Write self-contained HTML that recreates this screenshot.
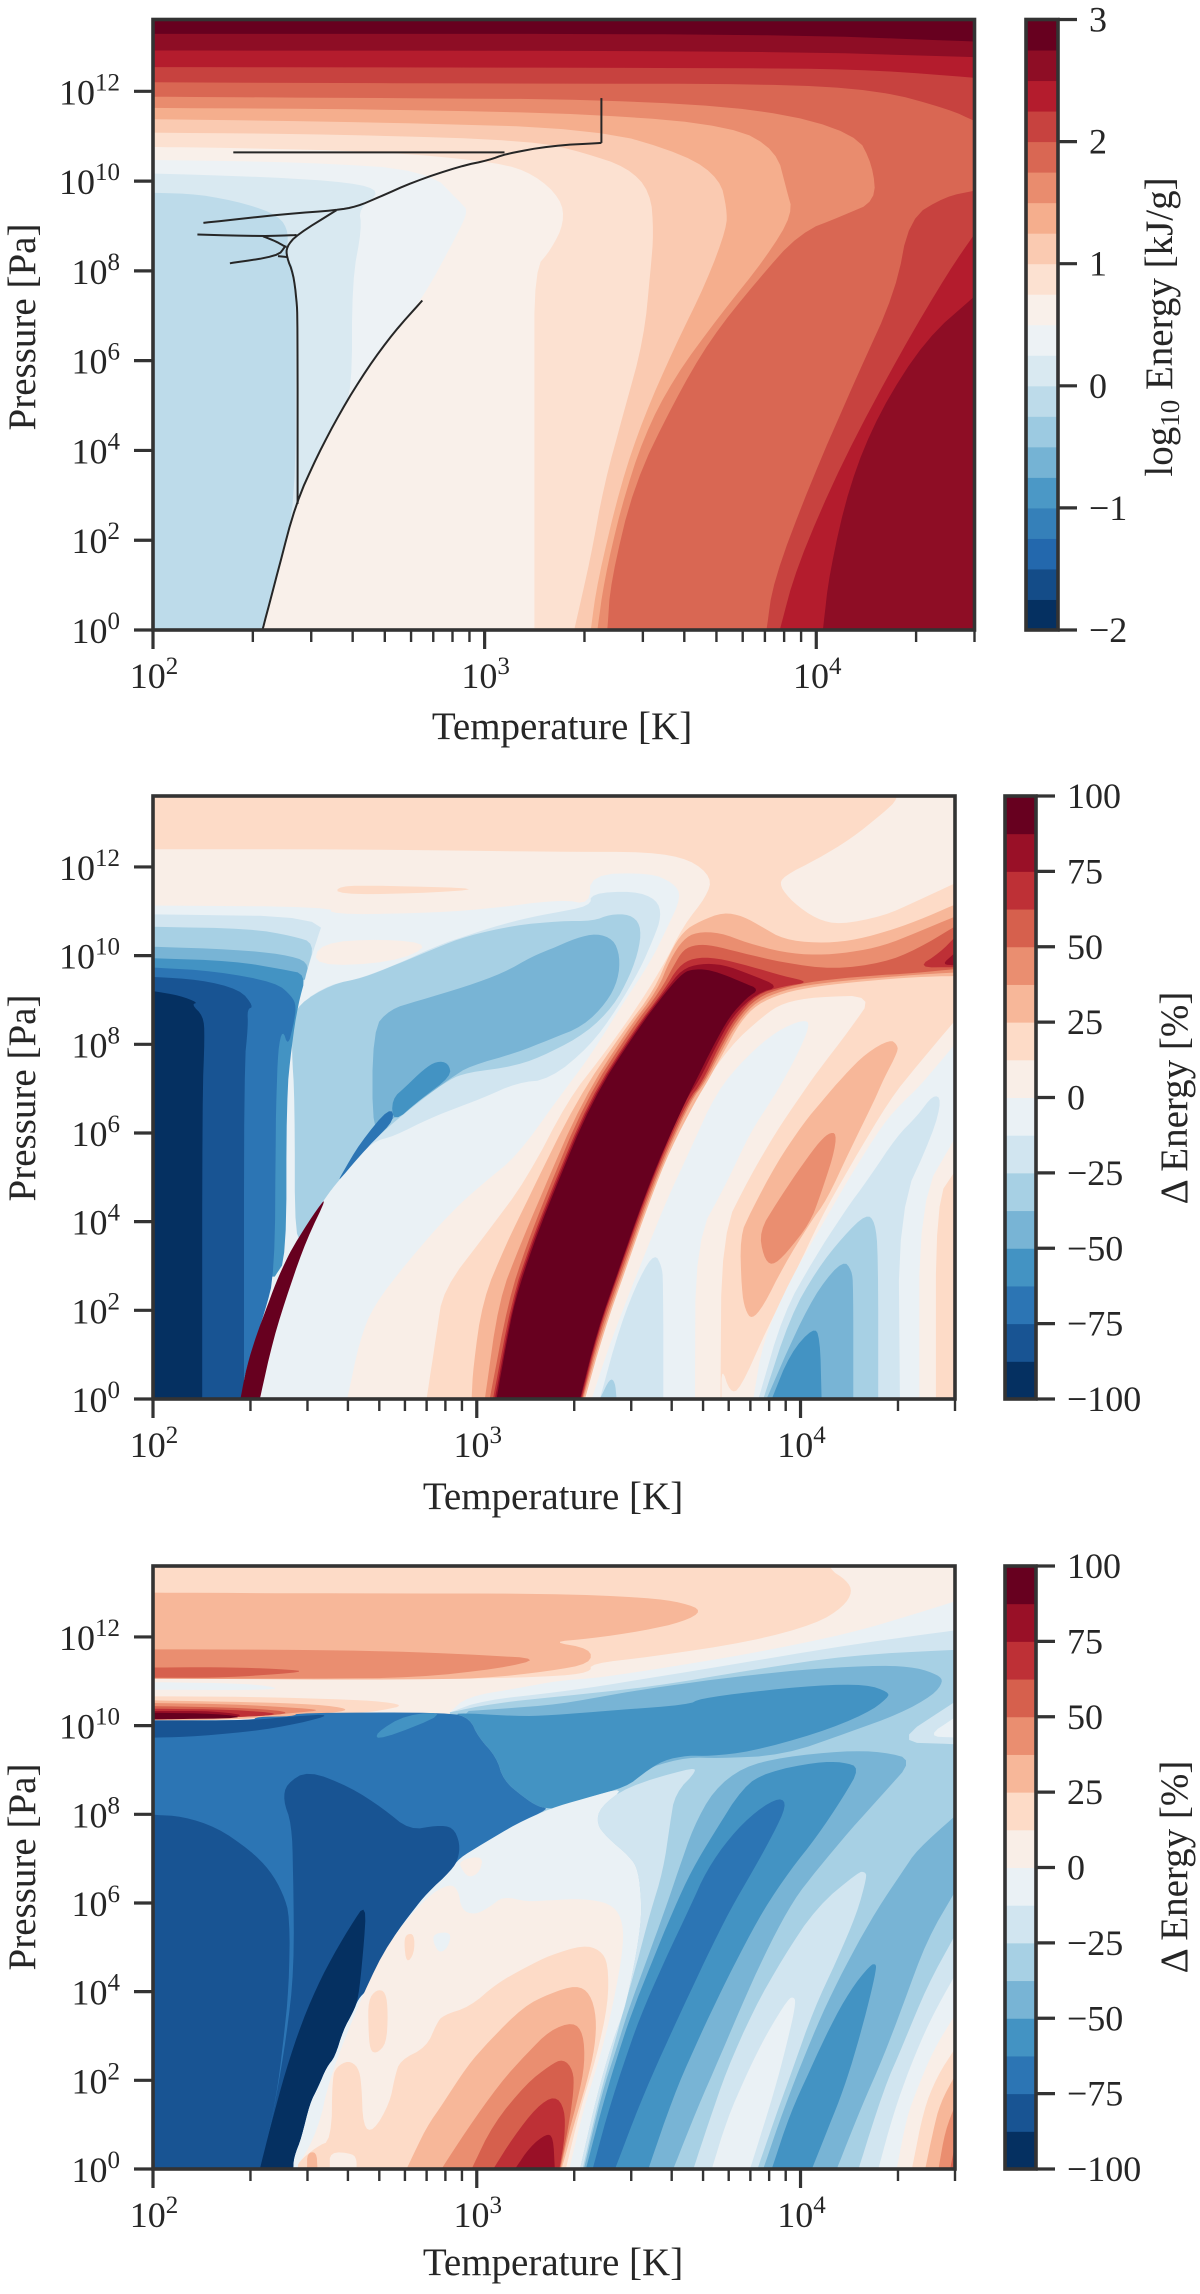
<!DOCTYPE html>
<html lang="en">
<head>
<meta charset="utf-8">
<title>Energy contour panels</title>
<style>
html,body{margin:0;padding:0;background:#fff;}
svg{display:block;}
text{font-family:"Liberation Serif","DejaVu Serif",serif;fill:#262626;}
</style>
</head>
<body>
<svg id="figure" xmlns="http://www.w3.org/2000/svg" width="1200" height="2294" viewBox="0 0 1200 2294">
  <rect width="1200" height="2294" fill="#ffffff"/>
  <defs id="defs"></defs>
  <g id="panel-1"></g>
  <g id="panel-2"></g>
  <g id="panel-3"></g>

  <text x="562" y="739" font-size="39" text-anchor="middle">Temperature [K]</text>
  <text transform="translate(35 327) rotate(-90)" font-size="39" text-anchor="middle">Pressure [Pa]</text>
  <text transform="translate(1172 327) rotate(-90)" font-size="39" text-anchor="middle">log<tspan font-size="27" dy="7">10</tspan><tspan dy="-7"> Energy [kJ/g]</tspan></text>

  <text x="553" y="1509" font-size="39" text-anchor="middle">Temperature [K]</text>
  <text transform="translate(35 1098) rotate(-90)" font-size="39" text-anchor="middle">Pressure [Pa]</text>
  <text transform="translate(1187 1098) rotate(-90)" font-size="39" text-anchor="middle">Δ Energy [%]</text>

  <text x="553" y="2275" font-size="39" text-anchor="middle">Temperature [K]</text>
  <text transform="translate(35 1867) rotate(-90)" font-size="39" text-anchor="middle">Pressure [Pa]</text>
  <text transform="translate(1187 1867) rotate(-90)" font-size="39" text-anchor="middle">Δ Energy [%]</text>
</svg>

<script>
// ---------- axis data ----------
const xMajorExps = [2, 3, 4];
const xMinorValues = [200, 300, 400, 500, 600, 700, 800, 900, 2000, 3000, 4000, 5000, 6000, 7000, 8000, 9000, 20000, 30000];
const yMajorExps = [0, 2, 4, 6, 8, 10, 12];
const energyLevels = [-2, -1.75, -1.5, -1.25, -1, -0.75, -0.5, -0.25, 0, 0.25, 0.5, 0.75, 1, 1.25, 1.5, 1.75, 2, 2.25, 2.5, 2.75, 3];
const deltaLevels = [-100, -87.5, -75, -62.5, -50, -37.5, -25, -12.5, 0, 12.5, 25, 37.5, 50, 62.5, 75, 87.5, 100];
const energyCbarTicks = [3, 2, 1, 0, -1, -2];
const deltaCbarTicks = [100, 75, 50, 25, 0, -25, -50, -75, -100];

// Contour bands: [lower level, boundary in [log10 T, log10 P], closing vertices]
const tailNE = [[4.6, -0.5], [4.6, 14], [1.9, 14]];
const energyBands = [
  [-0.25, [], [[1.9, -1], [4.6, -1], [4.6, 15], [1.9, 15]]],
  [0, [[2, 9.74], [2.14, 9.71], [2.28, 9.5], [2.38, 9.23], [2.41, 8.85], [2.4, 8.36], [2.43, 7.99], [2.43, 6.48], [2.43, 2.81], [2.38, 1.4], [2.33, 0]], tailNE],
  [0.25, [[2, 10.17], [2.35, 10.09], [2.6, 9.97], [2.69, 9.77], [2.62, 9.39], [2.63, 8.96], [2.6, 7.77], [2.6, 5.3], [2.565, 4.86], [2.496, 3.89], [2.43, 2.81], [2.38, 1.4], [2.33, 0]], tailNE],
  [0.5, [[2, 10.47], [2.46, 10.42], [2.83, 10.25], [2.93, 9.5], [2.95, 9.34], [2.92, 8.85], [2.81, 7.34], [2.727, 6.64], [2.646, 5.83], [2.565, 4.86], [2.496, 3.89], [2.43, 2.81], [2.38, 1.4], [2.33, 0]], tailNE],
  [0.75, [[2, 10.76], [2.23, 10.74], [2.69, 10.66], [3.04, 10.42], [3.15, 10.15], [3.23, 9.61], [3.24, 9.07], [3.2, 8.47], [3.15, 8.04], [3.15, 5.4], [3.15, 0]], tailNE],
  [1, [[2, 11.08], [2.58, 11.04], [3.15, 10.9], [3.3, 10.63], [3.43, 10.31], [3.5, 9.77], [3.51, 8.85], [3.5, 8], [3.48, 6.48], [3.42, 4.86], [3.36, 3.24], [3.32, 1.62], [3.27, 0]], tailNE],
  [1.25, [[2, 11.38], [2.69, 11.31], [3.34, 11.17], [3.61, 10.58], [3.71, 10.04], [3.73, 9.39], [3.73, 8.96], [3.67, 7.77], [3.57, 6.26], [3.48, 4.75], [3.41, 3.24], [3.34, 1.08], [3.32, 0]], tailNE],
  [1.5, [[2, 11.63], [2.69, 11.6], [3.36, 11.49], [3.75, 11.22], [3.88, 10.68], [3.91, 9.82], [3.93, 9.28], [3.85, 8.31], [3.71, 7.02], [3.57, 5.61], [3.48, 4.32], [3.41, 2.7], [3.36, 1.08], [3.34, 0]], tailNE],
  [1.75, [[2, 11.88], [2.69, 11.85], [3.36, 11.82], [3.85, 11.6], [4.12, 11.06], [4.17, 10.36], [4.18, 9.55], [4.08, 9.23], [3.95, 8.85], [3.82, 7.77], [3.68, 6.48], [3.57, 5.07], [3.45, 3.24], [3.38, 1.08], [3.37, 0]], tailNE],
  [2, [[2, 12.2], [3.15, 12.17], [3.85, 12.17], [4.19, 12.03], [4.4, 11.6], [4.48, 11.33]], [[4.6, 14], [1.9, 14]]],
  [2, [[4.48, 9.79], [4.39, 9.66], [4.28, 9.17], [4.24, 7.55], [4.12, 5.61], [3.98, 3.24], [3.87, 1.08], [3.85, 0]], [[4.6, -0.5]]],
  [2.25, [[2, 12.54], [3.85, 12.52], [4.19, 12.47], [4.48, 12.3]], [[4.6, 14], [1.9, 14]]],
  [2.25, [[4.48, 8.85], [4.4, 8], [4.26, 6.26], [4.08, 3.78], [3.94, 1.4], [3.89, 0]], [[4.6, -0.5]]],
  [2.5, [[2, 12.91], [3.85, 12.9], [4.48, 12.76]], [[4.6, 14], [1.9, 14]]],
  [2.5, [[4.48, 7.45], [4.33, 6.48], [4.19, 4.86], [4.1, 3.24], [4.04, 1.3], [4.02, 0]], [[4.6, -0.5]]],
  [2.75, [[2, 13.28], [3.85, 13.28], [4.48, 13.11]], [[4.6, 14], [1.9, 14]]]
];

// Phase-boundary curves on the energy panel, [log10 T, log10 P]
const phaseCurveMelt = [[2.33, 0], [2.38, 1.4], [2.43, 2.81], [2.496, 3.89], [2.565, 4.86], [2.646, 5.83], [2.727, 6.64], [2.812, 7.34]];
const phaseCurveMain = [[2.152, 9.07], [2.403, 9.27], [2.553, 9.35], [2.614, 9.43], [2.684, 9.65], [2.784, 9.98], [2.925, 10.33], [3.015, 10.47], [3.06, 10.6], [3.2, 10.79], [3.352, 10.85]];
const phaseCurveStub = [[3.352, 10.85], [3.352, 11.85]];
const phaseCurveHorizontal = [[2.242, 10.64], [3.06, 10.64]];
const phaseCurveVertical = [[2.553, 9.35], [2.433, 8.8], [2.403, 8.54], [2.403, 8.31], [2.423, 7.94], [2.433, 7.35], [2.436, 6.9], [2.436, 2.81]];
const phaseCurveBranchA = [[2.134, 8.81], [2.332, 8.77], [2.433, 8.8]];
const phaseCurveBranchB = [[2.332, 8.77], [2.373, 8.65], [2.398, 8.54], [2.403, 8.54]];
const phaseCurveBranchC = [[2.398, 8.54], [2.377, 8.33], [2.232, 8.17]];
const phaseCurveBranchD = [[2.377, 8.33], [2.403, 8.31]];
const phaseCurves = [phaseCurveMelt, phaseCurveMain, phaseCurveStub, phaseCurveHorizontal, phaseCurveVertical, phaseCurveBranchA, phaseCurveBranchB, phaseCurveBranchC, phaseCurveBranchD];

const deltaBandsA = [
  [12.5, [], [[1.9, -1], [4.6, -1], [4.6, 15], [1.9, 15]]],
  [0, [[2, 12.4], [2.61, 12.4], [3.26, 12.34], [3.535, 12.34], [3.659, 12.17], [3.726, 11.76], [3.71, 11.34], [3.638, 10.67], [3.576, 9.77], [3.484, 8.71], [3.38, 7.66], [3.283, 6.76], [3.154, 4.95], [3.03, 3.74], [2.896, 2.46], [2.876, 1.49], [2.845, 0]], [[1.9, -0.5], [1.9, 12.4]]],
  [12.5, [[2.57, 11.57], [2.71, 11.58], [3.04, 11.51], [2.81, 11.4], [2.57, 11.38]]],
  [-12.5, [[2, 11.13], [2.55, 11.1], [2.55, 10.93], [2.81, 10.95], [3.02, 11.04], [3.26, 11.27], [3.35, 11.15], [3.35, 11.83], [3.535, 11.87], [3.607, 11.64], [3.633, 11.34], [3.586, 10.59], [3.535, 9.84], [3.453, 8.94], [3.35, 7.73], [3.25, 6.76], [3.123, 5.47], [3.02, 4.87], [2.917, 4.19], [2.783, 3.07], [2.68, 2.09], [2.639, 1.34], [2.6, 0]], [[1.9, -0.5], [1.9, 11.13]]],
  [0, [[2.515, 10.29], [2.71, 10.38], [2.865, 10.25], [2.74, 9.84], [2.495, 9.76]]],
  [0, [[4.302, 14], [4.302, 13.54], [4.256, 13.22], [4.153, 12.62], [4.05, 12.17], [3.947, 11.79], [3.935, 11.57], [3.978, 11.19], [4.05, 10.82], [4.122, 10.7], [4.256, 10.89], [4.359, 11.23], [4.48, 11.64]], [[4.6, 14]]],
  [0, [[3.782, 7.96], [3.885, 8.64], [3.947, 8.94], [4.05, 9.07], [4.225, 9.1], [4.153, 8.34], [4.05, 7.36], [3.993, 6.76], [3.926, 6.04], [3.844, 5.02], [3.756, 3.74], [3.753, 0], [3.334, 0], [3.391, 1.49], [3.463, 2.99], [3.535, 4.49], [3.597, 5.62], [3.669, 6.75]]],
  [-12.5, [[3.741, 6.94], [3.834, 7.73], [3.926, 8.3], [4.009, 8.56], [4.031, 8.45], [3.988, 7.73], [3.937, 7.06], [3.911, 6.75], [3.844, 6], [3.772, 4.87], [3.676, 3.59], [3.674, 0], [3.355, 0], [3.401, 1.03], [3.463, 2.24], [3.525, 3.37], [3.587, 4.49], [3.659, 5.62]]],
  [-25, [[3.38, 0], [3.442, 1.64], [3.504, 2.77], [3.55, 3.29], [3.571, 2.99], [3.576, 2.69], [3.576, 0]]],
  [-37.5, [[3.38, 0], [3.411, 0.47], [3.427, 0.39], [3.432, 0]]],
  [25, [[4.297, 8], [4.302, 7.85], [4.256, 7.21], [4.23, 6.76], [4.153, 5.62], [4.081, 4.49], [4.029, 3.97], [3.947, 2.99], [3.885, 2.09], [3.849, 1.79], [3.829, 2.01], [3.818, 2.46], [3.813, 3.67], [3.844, 4.19], [3.926, 5.32], [4.009, 6.22], [4.07, 6.75], [4.132, 7.28], [4.204, 7.81], [4.277, 8.11]]],
  [37.5, [[4.112, 6], [4.086, 6], [4.05, 5.73], [3.988, 5.1], [3.926, 4.42], [3.873, 3.78], [3.885, 3.22], [3.911, 2.99], [3.957, 3.29], [4.029, 3.97], [4.06, 4.57], [4.101, 5.47]]],
  [0, [[4.48, 8.56], [4.359, 7.51], [4.276, 6.76], [4.153, 5.25], [4.06, 4.04], [3.988, 2.91], [3.895, 1.56], [3.813, 0.21], [3.782, 0.15], [3.756, 0.73], [3.756, 0]], [[4.6, -0.5]]],
  [12.5, [[4.418, 0], [4.418, 4.49], [4.48, 5.17]], [[4.6, -0.5]]],
  [-12.5, [[4.48, 8.03], [4.369, 7.06], [4.323, 6.75], [4.256, 6.22], [4.153, 5.02], [4.07, 3.97], [3.968, 2.69], [3.885, 1.34], [3.854, 0], [4.367, 0], [4.367, 4.49], [4.48, 5.92]]],
  [-25, [[4.41, 6.87], [4.436, 6.76], [4.41, 6], [4.302, 4.27], [4.307, 0], [3.87, 0], [3.947, 1.94], [4.04, 3.14], [4.132, 4.19], [4.215, 5.02], [4.297, 5.92], [4.359, 6.37]]],
  [-37.5, [[4.204, 4.18], [4.23, 4], [4.24, 3.29], [4.24, 0], [3.885, 0], [3.968, 1.86], [4.05, 2.91], [4.132, 3.67]]],
  [-50, [[4.132, 3.13], [4.158, 2.91], [4.163, 2.54], [4.163, 0], [3.895, 0], [3.988, 1.56], [4.06, 2.54]]],
  [-62.5, [[4.04, 1.62], [4.06, 1.41], [4.065, 0], [3.911, 0], [3.968, 1.03]]],
  [-25, [[2, 10.93], [2.53, 10.88], [2.5, 10.22], [2.474, 9.61], [2.448, 8.86]], [[1.9, 8.86], [1.9, 10.93]]],
  [-25, [[2.448, 8.9], [2.546, 9.35], [2.63, 9.46], [2.752, 9.8], [2.876, 10.22], [2.979, 10.48], [3.113, 10.78], [3.226, 10.95], [3.352, 11.12], [3.352, 11.4], [3.484, 11.46], [3.556, 11.27], [3.571, 10.89], [3.545, 10.37], [3.504, 9.69], [3.432, 8.79], [3.35, 7.96], [3.226, 7.21], [3.123, 7.13], [3.02, 6.79], [2.866, 6.37], [2.742, 5.92], [2.68, 5.81], [2.608, 5.25], [2.567, 4.87], [2.541, 4.61]]],
  [-37.5, [[2, 10.65], [2.3, 10.61], [2.433, 10.44], [2.5, 10.28], [2.474, 9.61]], [[1.9, 8.86], [1.9, 10.65]]],
  [-37.5, [[2.448, 8.9], [2.551, 9.35], [2.649, 9.5], [2.752, 9.8], [2.876, 10.18], [2.969, 10.44], [3.113, 10.68], [3.257, 10.78], [3.36, 10.78], [3.411, 10.93], [3.473, 10.93], [3.506, 10.7], [3.504, 10.22], [3.473, 9.54], [3.422, 8.86], [3.339, 8.26], [3.226, 7.81], [3.123, 7.51], [2.969, 7.36], [2.917, 7.21], [2.83, 6.76], [2.68, 5.85], [2.577, 4.95], [2.546, 4.68], [2.474, 3.89], [2.438, 3.44], [2.438, 6.75], [2.428, 7.88], [2.433, 8.49]]],
  [-50, [[2, 10.2], [2.248, 10.14], [2.402, 10.03], [2.482, 9.86], [2.469, 9.46]], [[1.9, 9], [1.9, 10.2]]],
  [-50, [[2.678, 8.34], [2.732, 8.79], [2.814, 8.97], [2.969, 9.31], [3.082, 9.61], [3.174, 9.99], [3.226, 10.14], [3.308, 10.4], [3.37, 10.5], [3.422, 10.37], [3.442, 9.99], [3.437, 9.46], [3.401, 8.94], [3.329, 8.41], [3.226, 8.11], [3.123, 7.81], [2.979, 7.51], [2.922, 7.25], [2.83, 6.76], [2.732, 6.3], [2.678, 5.85]]],
  [-62.5, [[2, 9.94], [2.248, 9.88], [2.402, 9.69], [2.474, 9.58], [2.448, 8.9], [2.428, 7.96], [2.412, 6.76], [2.412, 3.16], [2.376, 2.76]], [[1.9, 2.76], [1.9, 9.94]]],
  [-62.5, [[2.922, 7.28], [2.912, 7.58], [2.876, 7.62], [2.835, 7.43], [2.783, 7.06], [2.737, 6.76], [2.742, 6.22], [2.824, 6.75]]],
  [-75, [[2.732, 6.6], [2.747, 6.3], [2.68, 5.81], [2.629, 5.4], [2.572, 4.91], [2.582, 5.06], [2.639, 5.77]]],
  [-75, [[2, 9.73], [2.196, 9.65], [2.381, 9.39], [2.428, 9.09], [2.443, 8.86], [2.433, 8.41], [2.417, 7.96], [2.4, 8.34], [2.386, 7.88], [2.381, 6.76], [2.379, 6.07], [2.376, 2.84], [2.345, 1.94], [2.289, 0.73], [2.27, 0]], [[1.9, -0.5], [1.9, 9.73]]],
  [-87.5, [[2, 9.52], [2.144, 9.46], [2.268, 9.24], [2.311, 8.85], [2.291, 8.79], [2.294, 8.41], [2.281, 7.51], [2.281, 0]], [[1.9, -0.5], [1.9, 9.52]]],
  [-100, [[2, 9.2], [2.083, 9.1], [2.139, 8.94], [2.119, 8.9], [2.155, 8.64], [2.16, 8.19], [2.152, 6.76], [2.152, 0]], [[1.9, -0.5], [1.9, 9.2]]],
  [87.5, [[2.541, 4.61], [2.495, 4.16], [2.433, 3.44], [2.412, 3.14], [2.381, 2.65], [2.345, 1.94], [2.32, 1.45], [2.289, 0.73], [2.27, 0], [2.33, 0], [2.371, 1.34], [2.423, 2.54], [2.474, 3.59]]],
  [25, [[3.638, 10.55], [3.69, 10.78], [3.762, 10.98], [3.823, 10.89], [3.885, 10.63], [3.947, 10.37], [4.05, 10.28], [4.153, 10.33], [4.256, 10.52], [4.359, 10.78], [4.48, 11.16], [4.48, 9.54], [4.359, 9.52], [4.204, 9.43], [4.05, 9.31], [3.947, 9.16], [3.865, 8.9], [3.813, 8.49], [3.762, 7.81], [3.71, 7.13], [3.679, 6.76], [3.597, 5.62], [3.535, 4.49], [3.463, 2.99], [3.391, 1.49], [3.334, 0], [2.984, 0], [2.989, 0.73], [3.018, 2.23], [3.089, 3.47], [3.163, 4.58], [3.308, 6.74], [3.455, 8.32], [3.548, 9.22], [3.597, 10.07]]],
  [37.5, [[3.638, 10.37], [3.679, 10.53], [3.751, 10.52], [3.834, 10.29], [3.947, 10.07], [4.05, 10.01], [4.153, 10.07], [4.256, 10.22], [4.359, 10.52], [4.48, 10.89], [4.48, 9.62], [4.359, 9.57], [4.204, 9.48], [4.05, 9.37], [3.947, 9.22], [3.865, 8.97], [3.808, 8.52], [3.756, 7.85], [3.705, 7.13], [3.664, 6.75], [3.592, 5.62], [3.53, 4.49], [3.458, 2.99], [3.386, 1.49], [3.329, 0], [3.025, 0], [3.068, 2.23], [3.134, 3.47], [3.198, 4.58], [3.326, 6.74], [3.465, 8.32], [3.558, 9.22], [3.597, 9.91]]],
  [50, [[3.638, 10.14], [3.679, 10.25], [3.73, 10.23], [3.813, 10.07], [3.947, 9.84], [4.101, 9.69], [4.256, 9.84], [4.359, 10.14], [4.48, 10.67], [4.48, 9.7], [4.359, 9.61], [4.204, 9.54], [4.05, 9.43], [3.947, 9.28], [3.865, 9.05], [3.803, 8.56], [3.751, 7.88], [3.7, 7.13], [3.659, 6.75], [3.587, 5.62], [3.525, 4.49], [3.453, 2.99], [3.38, 1.49], [3.326, 0], [3.04, 0], [3.098, 2.23], [3.154, 3.47], [3.213, 4.58], [3.336, 6.74], [3.475, 8.32], [3.568, 9.22], [3.607, 9.76]]],
  [62.5, [[3.623, 9.76], [3.669, 9.95], [3.741, 9.95], [3.844, 9.76], [3.947, 9.54], [4.03, 9.4], [3.947, 9.31], [3.865, 9.13], [3.798, 8.6], [3.746, 7.92], [3.695, 7.13], [3.653, 6.75], [3.581, 5.62], [3.52, 4.49], [3.447, 2.99], [3.375, 1.49], [3.324, 0], [3.05, 0], [3.108, 2.23], [3.164, 3.47], [3.223, 4.58], [3.346, 6.74], [3.485, 8.32], [3.578, 9.22]]],
  [62.5, [[4.359, 9.73], [4.431, 10.07], [4.48, 10.44], [4.48, 9.74]]],
  [75, [[4.436, 9.8], [4.472, 10.03], [4.48, 10.05], [4.48, 9.78]]],
  [75, [[3.633, 9.69], [3.69, 9.82], [3.761, 9.8], [3.844, 9.58], [3.937, 9.3], [3.865, 9.15], [3.79, 8.64], [3.738, 7.94], [3.686, 7.17], [3.645, 6.75], [3.578, 5.62], [3.516, 4.49], [3.444, 2.99], [3.372, 1.49], [3.321, 0], [3.056, 0], [3.113, 2.23], [3.169, 3.47], [3.228, 4.58], [3.351, 6.74], [3.49, 8.32], [3.583, 9.22]]],
  [87.5, [[3.669, 9.69], [3.71, 9.69], [3.761, 9.58], [3.823, 9.39], [3.873, 9.24], [3.834, 9.05], [3.782, 8.64], [3.73, 7.96], [3.679, 7.21], [3.648, 6.76], [3.576, 5.62], [3.514, 4.49], [3.442, 2.99], [3.37, 1.49], [3.319, 0], [3.061, 0], [3.09, 1.2], [3.118, 2.23], [3.174, 3.47], [3.233, 4.58], [3.356, 6.74], [3.495, 8.32], [3.588, 9.22], [3.638, 9.62]]]
];

const deltaBandsB = [
  [12.5, [], [[1.9, -1], [4.6, -1], [4.6, 15], [1.9, 15]]],
  [25, [[2, 13], [2.61, 12.98], [3.226, 12.98], [3.525, 12.89], [3.638, 12.77], [3.698, 12.59], [3.638, 12.34], [3.514, 12.14], [3.35, 11.96], [3.226, 11.89], [3.352, 11.74], [3.352, 11.4], [3.226, 11.23], [3.02, 11.06], [2.711, 11.01], [2.3, 11.04], [2, 11.04]], [[1.9, 11.04], [1.9, 13]]],
  [0, [[4.086, 14], [4.086, 13.54], [4.142, 13.28], [4.161, 13.02], [4.132, 12.68], [4.05, 12.3], [3.844, 11.89], [3.535, 11.55], [3.352, 11.4], [3.352, 11.2], [3.226, 11.1], [2.8, 11.03], [2, 11.06]], [[1.9, 9], [4.6, 9], [4.6, 14]]],
  [37.5, [[2, 11.72], [2.505, 11.71], [2.814, 11.66], [3.02, 11.59], [3.2, 11.51], [3.072, 11.29], [2.814, 11.08], [2.505, 11.06], [2, 11.06]], [[1.9, 11.06], [1.9, 11.72]]],
  [50, [[2, 11.31], [2.196, 11.32], [2.35, 11.29], [2.484, 11.23], [2.35, 11.14], [2.196, 11.08], [2, 11.08]], [[1.9, 11.08], [1.9, 11.31]]],
  [-12.5, [[2, 10.98], [2.3, 10.95], [2.402, 10.83], [2.3, 10.8], [2, 10.81]], [[1.9, 10.81], [1.9, 10.98]]],
  [12.5, [[2, 10.66], [2.3, 10.65], [2.505, 10.61], [2.69, 10.56], [2.778, 10.46], [2.711, 10.35], [2.649, 10.29], [2.3, 10.15], [2, 10.1]], [[1.9, 10.1], [1.9, 10.66]]],
  [25, [[2, 10.57], [2.3, 10.53], [2.505, 10.48], [2.608, 10.38], [2.567, 10.29], [2.3, 10.15], [2, 10.1]], [[1.9, 10.1], [1.9, 10.57]]],
  [37.5, [[2, 10.51], [2.248, 10.48], [2.423, 10.41], [2.526, 10.35], [2.443, 10.29], [2.309, 10.2], [2, 10.14]], [[1.9, 10.1], [1.9, 10.51]]],
  [50, [[2, 10.44], [2.3, 10.4], [2.443, 10.29], [2.309, 10.2], [2, 10.14]], [[1.9, 10.1], [1.9, 10.44]]],
  [62.5, [[2, 10.38], [2.248, 10.36], [2.402, 10.27], [2.309, 10.2], [2, 10.14]], [[1.9, 10.1], [1.9, 10.38]]],
  [75, [[2, 10.33], [2.196, 10.33], [2.309, 10.2], [2, 10.14]], [[1.9, 10.1], [1.9, 10.33]]],
  [87.5, [[2, 10.29], [2.196, 10.27], [2.3, 10.17], [2, 10.14]], [[1.9, 10.1], [1.9, 10.29]]],
  [-12.5, [[4.48, 12.81], [4.359, 12.53], [4.153, 12.08], [3.844, 11.62], [3.535, 11.25], [3.352, 11.06], [3.257, 11.02], [3.123, 10.84], [2.969, 10.65], [2.917, 10.3]], [[2.917, 9], [4.6, 9], [4.6, 12.81]]],
  [-25, [[4.48, 12.15], [4.256, 11.93], [4.05, 11.7], [3.741, 11.32], [3.432, 10.95], [3.257, 10.76], [3.02, 10.57], [2.917, 10.3]], [[2.917, 9], [4.6, 9], [4.6, 12.15]]],
  [-37.5, [[4.48, 11.71], [4.153, 11.59], [3.844, 11.25], [3.535, 10.87], [3.257, 10.66], [3.05, 10.5], [2.917, 10.3]], [[2.917, 0], [4.6, -0.5], [4.6, 11.71]]],
  [-25, [[4.287, 9.63], [4.48, 10.55], [4.48, 9.58]]],
  [-12.5, [[4.39, 9.76], [4.48, 10.2], [4.48, 9.73]]],
  [-50, [[2.917, 10.3], [3.072, 10.38], [3.257, 10.48], [3.432, 10.72], [3.638, 10.95], [3.844, 11.14], [4.05, 11.29], [4.256, 11.36], [4.359, 11.31], [4.426, 11.14], [4.441, 10.99], [4.41, 10.69], [4.307, 10.27], [4.153, 9.86], [3.947, 9.33], [3.741, 9.26], [3.653, 9.29], [3.535, 9.07], [3.484, 8.8], [3.2, 9.2]]],
  [-62.5, [[2.917, 10.3], [3.123, 10.21], [3.226, 10.23], [3.432, 10.35], [3.653, 10.47], [3.69, 10.61], [3.844, 10.76], [4.05, 10.91], [4.204, 10.93], [4.271, 10.76], [4.271, 10.63], [4.204, 10.27], [4.05, 9.82], [3.844, 9.41], [3.72, 9.31], [3.653, 9.33], [3.576, 9.22], [3.514, 8.92], [3.463, 8.62], [3.329, 8.35], [3.257, 8.13], [3.226, 8.13], [3.19, 8.17], [3.144, 8.39], [3.082, 8.77], [3.061, 9.29], [3.005, 9.74], [2.979, 10.16]]],
  [-12.5, [[2.943, 7], [3.02, 7.34], [3.123, 7.79], [3.226, 8.13], [3.329, 8.35], [3.463, 8.62], [3.381, 8.16], [3.37, 7.79], [3.401, 7.49], [3.473, 7.04], [3.499, 6.74], [3.509, 5.99], [3.504, 5.31], [3.463, 3.73], [3.417, 2.83], [3.37, 1.63], [3.319, 0]], [[2.3, -0.5], [2.3, 7]]],
  [-75, [[2, 10.12], [2.309, 10.12], [2.32, 10.2], [2.433, 10.21], [2.448, 10.29], [2.917, 10.3], [2.979, 10.16], [3.005, 9.74], [3.061, 9.29], [3.082, 8.77], [3.144, 8.39], [3.19, 8.17], [3.226, 8.13], [3.123, 7.79], [3.02, 7.34], [2.943, 7], [2.922, 6.74], [2.845, 6.21], [2.804, 5.84], [2.742, 5.24], [2.701, 4.63], [2.66, 4.03], [2.634, 3.84], [2.618, 3.54], [2.587, 3.13], [2.562, 2.53], [2.536, 2.3], [2.51, 1.85], [2.484, 1.48], [2.459, 0.72], [2.435, 0.27], [2.433, 0]], [[1.9, -0.5], [1.9, 10.12]]],
  [-62.5, [[2.917, 10.3], [2.783, 10.26], [2.685, 9.82], [2.7, 9.67]]],
  [-87.5, [[2, 10.11], [2.309, 10.12], [2.433, 10.21], [2.557, 10.26], [2.453, 10.05], [2.3, 9.86], [2.093, 9.74], [2, 9.73]], [[1.9, 9.73], [1.9, 10.11]]],
  [-87.5, [[2, 7.99], [2.093, 7.95], [2.196, 7.71], [2.3, 7.19], [2.361, 6.74], [2.402, 6.21], [2.423, 5.69], [2.42, 4.11], [2.402, 2.83], [2.381, 1.63], [2.335, 0]], [[1.9, -0.5], [1.9, 7.99]]],
  [-87.5, [[2.433, 6.74], [2.428, 7.79], [2.402, 8.32], [2.412, 8.69], [2.479, 8.99], [2.608, 8.62], [2.711, 8.13], [2.793, 7.64], [2.876, 7.75], [2.927, 7.71], [2.948, 7.34], [2.943, 7], [2.922, 6.74], [2.845, 6.21], [2.804, 5.84], [2.742, 5.24], [2.701, 4.63], [2.66, 4.03], [2.634, 3.84], [2.618, 3.54], [2.587, 3.13], [2.562, 2.53], [2.536, 2.3], [2.51, 1.85], [2.484, 1.48], [2.459, 0.72], [2.435, 0.27], [2.433, 0], [2.335, 0], [2.381, 1.63], [2.412, 2.98], [2.436, 4.48]]],
  [-100, [[2.66, 6.03], [2.608, 5.46], [2.536, 4.56], [2.474, 3.58], [2.423, 2.53], [2.376, 1.33], [2.33, 0], [2.433, 0], [2.435, 0.27], [2.459, 0.72], [2.484, 1.48], [2.51, 1.85], [2.536, 2.3], [2.562, 2.53], [2.587, 3.13], [2.618, 3.54], [2.634, 3.84], [2.649, 4.86]]],
  [0, [[2.917, 6.44], [2.943, 6.29], [2.953, 5.84], [2.994, 5.73], [3.04, 5.91], [3.082, 6.15], [3.154, 6.03], [3.226, 6.06], [3.329, 6.1], [3.411, 5.99], [3.447, 5.69], [3.455, 5.09], [3.422, 3.73], [3.381, 2.53], [3.329, 1.33], [3.286, 0], [2.443, 0], [2.51, 0.87], [2.546, 2.08], [2.649, 3.96], [2.731, 5.16], [2.845, 6.14]]],
  [-12.5, [[2.866, 5.31], [2.922, 5.35], [2.912, 5.01], [2.886, 4.86], [2.866, 5.09]]],
  [0, [[2.943, 6.96], [3.02, 7.07], [3.01, 6.7], [2.979, 6.57], [2.958, 6.7]]],
  [12.5, [[3.329, 5.05], [3.381, 4.94], [3.406, 4.63], [3.406, 3.73], [3.37, 2.53], [3.319, 1.33], [3.275, 0], [2.448, 0], [2.448, 0.15], [2.505, 0.5], [2.551, 0.65], [2.554, 2.08], [2.567, 2.3], [2.603, 2.45], [2.634, 2.3], [2.644, 1.93], [2.649, 0.95], [2.68, 0.84], [2.731, 1.48], [2.747, 2.08], [2.763, 2.45], [2.845, 2.75], [2.876, 3.28], [2.896, 3.47], [2.979, 3.66], [3.061, 4.18], [3.154, 4.56], [3.226, 4.82]]],
  [0, [[2.546, 0], [2.546, 0.39], [2.618, 0.35], [2.629, 0.2], [2.629, 0]]],
  [25, [[2.476, 0], [2.476, 0.36], [2.505, 0.39], [2.508, 0]]],
  [12.5, [[2.665, 3.81], [2.69, 4.05], [2.719, 4], [2.726, 3.51], [2.721, 2.83], [2.69, 2.6], [2.67, 2.68], [2.665, 3.21]]],
  [12.5, [[2.775, 5.12], [2.783, 5.3], [2.807, 5.3], [2.807, 4.86], [2.783, 4.63]]],
  [25, [[2.783, 0], [2.845, 0.95], [2.896, 1.48], [2.968, 2.3], [3.04, 2.9], [3.144, 3.66], [3.226, 3.96], [3.308, 4.15], [3.35, 3.96], [3.37, 3.43], [3.365, 2.75], [3.339, 1.93], [3.298, 0.95], [3.262, 0]]],
  [37.5, [[2.891, 0], [2.968, 0.87], [3.071, 1.93], [3.154, 2.6], [3.226, 3.13], [3.298, 3.32], [3.329, 3.06], [3.334, 2.38], [3.314, 1.63], [3.283, 0.8], [3.259, 0]]],
  [50, [[2.984, 0], [3.051, 1.02], [3.154, 1.93], [3.226, 2.34], [3.267, 2.49], [3.298, 2.23], [3.3, 1.78], [3.283, 0.95], [3.257, 0]]],
  [62.5, [[3.051, 0], [3.113, 0.72], [3.185, 1.4], [3.241, 1.66], [3.272, 1.36], [3.272, 0.72], [3.255, 0]]],
  [75, [[3.118, 0], [3.164, 0.5], [3.216, 0.8], [3.236, 0.72], [3.241, 0]]],
  [-25, [[3.684, 9.01], [3.612, 8.47], [3.597, 7.79], [3.576, 6.74], [3.535, 5.76], [3.494, 4.63], [3.453, 3.58], [3.422, 2.75], [3.381, 1.7], [3.327, 0], [3.319, 0], [3.37, 1.63], [3.417, 2.83], [3.463, 3.73], [3.504, 5.31], [3.509, 5.99], [3.499, 6.74], [3.473, 7.04], [3.401, 7.49], [3.37, 7.79], [3.381, 8.16], [3.463, 8.62], [3.653, 9.03]]],
  [-50, [[3.623, 6.74], [3.669, 7.71], [3.731, 8.54], [3.823, 9.07], [3.947, 9.29], [4.132, 9.43], [4.256, 9.41], [4.349, 9.23], [4.256, 8.47], [4.153, 7.64], [4.05, 6.74], [3.978, 6.06], [3.906, 5.09], [3.834, 3.96], [3.751, 2.53], [3.679, 1.33], [3.607, 0], [3.331, 0], [3.386, 1.7], [3.43, 2.68], [3.468, 3.58], [3.525, 4.71], [3.581, 5.84]]],
  [-62.5, [[3.664, 6.74], [3.731, 7.56], [3.823, 8.62], [3.896, 8.95], [4.05, 9.18], [4.132, 9.18], [4.184, 9.05], [4.132, 8.39], [4.05, 7.49], [3.968, 6.74], [3.885, 5.84], [3.813, 4.86], [3.741, 3.81], [3.669, 2.68], [3.607, 1.63], [3.53, 0], [3.337, 0], [3.396, 1.63], [3.437, 2.6], [3.478, 3.51], [3.535, 4.56], [3.607, 5.84]]],
  [-75, [[3.71, 6.74], [3.782, 7.49], [3.865, 8.09], [3.937, 8.39], [3.957, 8.2], [3.916, 7.56], [3.854, 6.74], [3.782, 5.84], [3.71, 4.78], [3.638, 3.66], [3.576, 2.68], [3.504, 1.48], [3.427, 0], [3.358, 0], [3.401, 1.17], [3.447, 2.23], [3.504, 3.43], [3.576, 4.63], [3.659, 5.91]]],
  [-25, [[4.199, 6.7], [4.205, 6.59], [4.174, 5.76], [4.112, 4.71], [4.04, 3.58], [3.978, 2.3], [3.926, 1.25], [3.867, 0], [3.669, 0], [3.715, 1.02], [3.772, 2.23], [3.854, 3.58], [3.947, 4.78], [4.05, 5.91], [4.179, 6.7]]],
  [-12.5, [[3.978, 3.88], [3.986, 3.77], [3.968, 3.13], [3.926, 1.93], [3.885, 0.95], [3.844, 0], [3.726, 0], [3.772, 1.1], [3.834, 2.15], [3.896, 3.06], [3.962, 3.84]]],
  [-50, [[4.48, 7.98], [4.359, 7.19], [4.318, 6.74], [4.235, 5.84], [4.153, 4.78], [4.081, 3.73], [4.019, 2.68], [3.947, 1.33], [3.885, 0], [4.112, 0], [4.184, 1.33], [4.256, 2.53], [4.318, 3.73], [4.39, 5.16], [4.48, 6.29]]],
  [-62.5, [[4.215, 4.6], [4.233, 4.63], [4.233, 4.48], [4.215, 3.88], [4.174, 2.75], [4.132, 1.78], [4.091, 1.02], [4.035, 0], [3.911, 0], [3.968, 1.25], [4.029, 2.23], [4.091, 3.21], [4.153, 4.03]]],
  [-25, [[4.48, 5.31], [4.39, 4.11], [4.318, 2.83], [4.256, 1.78], [4.179, 0]], [[4.6, -0.5], [4.6, 5.31]]],
  [-12.5, [[4.48, 4.41], [4.4, 3.36], [4.338, 2.3], [4.287, 1.25], [4.24, 0]], [[4.6, -0.5], [4.6, 4.41]]],
  [0, [[4.48, 3.51], [4.41, 2.68], [4.359, 1.78], [4.328, 1.17], [4.297, 0]], [[4.6, -0.5], [4.6, 3.51]]],
  [12.5, [[4.48, 2.75], [4.421, 2.08], [4.38, 1.33], [4.344, 0]], [[4.6, -0.5], [4.6, 2.75]]],
  [25, [[4.48, 2.15], [4.431, 1.48], [4.41, 0.87], [4.385, 0]], [[4.6, -0.5], [4.6, 2.15]]],
  [37.5, [[4.48, 1.48], [4.447, 0.87], [4.426, 0]], [[4.6, -0.5], [4.6, 1.48]]],
  [50, [[4.48, 0.65], [4.462, 0]], [[4.6, -0.5], [4.6, 0.65]]]
];

// ---------- colour map (RdBu_r anchors) ----------
const colormapAnchors = ["#053061", "#2166ac", "#4393c3", "#92c5de", "#d1e5f0", "#f7f7f7", "#fddbc7", "#f4a582", "#d6604d", "#b2182b", "#67001f"];
function hexToRgb(h) {
  return [parseInt(h.slice(1, 3), 16), parseInt(h.slice(3, 5), 16), parseInt(h.slice(5, 7), 16)];
}
function sampleColormap(t) {
  const s = Math.min(Math.max(t, 0), 1) * (colormapAnchors.length - 1);
  const i = Math.min(Math.floor(s), colormapAnchors.length - 2);
  const f = s - i;
  const a = hexToRgb(colormapAnchors[i]);
  const b = hexToRgb(colormapAnchors[i + 1]);
  return "rgb(" + a.map((c, k) => Math.round(c + (b[k] - c) * f)).join(",") + ")";
}
function bandColor(levels, value) {
  return sampleColormap(levels.indexOf(value) / (levels.length - 2));
}

// ---------- geometry helpers ----------
const SVG_NS = "http://www.w3.org/2000/svg";
const LOG_T_MAX = Math.log10(30000);
const LOG_P_MAX = 13.6;

function onAxisEdge(pt) {
  return pt[0] <= 2 || pt[0] >= 4.47 || pt[1] <= 0 || pt[1] >= 13.6;
}
function chaikinOpen(pts) {
  if (pts.length < 3) return pts;
  const out = [pts[0]];
  for (let i = 0; i < pts.length - 1; i++) {
    const a = pts[i];
    const b = pts[i + 1];
    out.push([a[0] * 0.75 + b[0] * 0.25, a[1] * 0.75 + b[1] * 0.25]);
    out.push([a[0] * 0.25 + b[0] * 0.75, a[1] * 0.25 + b[1] * 0.75]);
  }
  out.push(pts[pts.length - 1]);
  return out;
}
function chaikinClosed(pts) {
  const out = [];
  for (let i = 0; i < pts.length; i++) {
    const a = pts[i];
    const b = pts[(i + 1) % pts.length];
    out.push([a[0] * 0.75 + b[0] * 0.25, a[1] * 0.75 + b[1] * 0.25]);
    out.push([a[0] * 0.25 + b[0] * 0.75, a[1] * 0.25 + b[1] * 0.75]);
  }
  return out;
}
function smoothBoundary(pts, closed) {
  // vertices on the plot edge are doubled so they stay sharp corners
  let out = [];
  pts.forEach(pt => {
    out.push(pt);
    if (onAxisEdge(pt)) out.push(pt);
  });
  for (let k = 0; k < 2; k++) out = closed ? chaikinClosed(out) : chaikinOpen(out);
  return out;
}
function shape(tag, attrs) {
  const el = document.createElementNS(SVG_NS, tag);
  for (const k in attrs) el.setAttribute(k, attrs[k]);
  return el;
}

// ---------- panel drawing ----------
function drawPanel(cfg) {
  const root = document.getElementById(cfg.id);
  const xScale = t => cfg.left + (t - 2) / (LOG_T_MAX - 2) * (cfg.right - cfg.left);
  const yScale = p => cfg.bottom - p / LOG_P_MAX * (cfg.bottom - cfg.top);
  const cbScale = v => cfg.bottom - (v - cfg.levels[0]) / (cfg.levels[cfg.levels.length - 1] - cfg.levels[0]) * (cfg.bottom - cfg.top);

  const clip = shape("clipPath", { id: cfg.id + "-clip" });
  clip.appendChild(shape("rect", { x: cfg.left, y: cfg.top, width: cfg.right - cfg.left, height: cfg.bottom - cfg.top }));
  document.getElementById("defs").appendChild(clip);

  const plot = shape("g", { "clip-path": "url(#" + cfg.id + "-clip)" });
  
  
  root.appendChild(plot);

  cfg.bands.forEach(band => {
    const value = band[0];
    const boundary = band[1];
    const tail = band[2];
    const verts = smoothBoundary(boundary, !tail).concat(tail || []);
    const d = verts.map((pt, i) => (i ? "L" : "M") + xScale(pt[0]).toFixed(1) + " " + yScale(pt[1]).toFixed(1)).join("") + "Z";
    const path = shape("path", { d: d, fill: bandColor(cfg.levels, value) });
    
    
    plot.appendChild(path);
  });

  (cfg.lines || []).forEach(line => {
    let smooth = line;
    for (let k = 0; k < 2; k++) smooth = chaikinOpen(smooth);
    const d = smooth.map((pt, i) => (i ? "L" : "M") + xScale(pt[0]).toFixed(1) + " " + yScale(pt[1]).toFixed(1)).join("");
    const path = shape("path", { d: d, fill: "none", stroke: "#262626", "stroke-width": 2 });
    
    
    plot.appendChild(path);
  });

  // x minor ticks
  xMinorValues.forEach(v => {
    const x = xScale(Math.log10(v));
    const tick = shape("line", { x1: x, x2: x, y1: cfg.bottom, y2: cfg.bottom + 12, stroke: "#333", "stroke-width": 2.4 });
    
    
    root.appendChild(tick);
  });
  // x major ticks + labels
  xMajorExps.forEach(e => {
    const x = xScale(e);
    const tick = shape("line", { x1: x, x2: x, y1: cfg.bottom, y2: cfg.bottom + 19, stroke: "#333", "stroke-width": 3.2 });
    
    
    root.appendChild(tick);
    const label = shape("text", { x: x + 1, y: cfg.bottom + 58, "font-size": 36, "text-anchor": "middle" });
    
    
    label.appendChild(document.createTextNode("10"));
    const sup = shape("tspan", { "font-size": 25, dy: -14 });
    sup.textContent = String(e);
    label.appendChild(sup);
    root.appendChild(label);
  });
  // y major ticks + labels
  yMajorExps.forEach(e => {
    const y = yScale(e);
    const tick = shape("line", { x1: cfg.left - 19, x2: cfg.left, y1: y, y2: y, stroke: "#333", "stroke-width": 3.2 });
    
    
    root.appendChild(tick);
    const label = shape("text", { x: cfg.left - 33, y: y + 13, "font-size": 36, "text-anchor": "end" });
    
    
    label.appendChild(document.createTextNode("10"));
    const sup = shape("tspan", { "font-size": 25, dy: -14 });
    sup.textContent = String(e);
    label.appendChild(sup);
    root.appendChild(label);
  });

  const frame = shape("rect", { x: cfg.left, y: cfg.top, width: cfg.right - cfg.left, height: cfg.bottom - cfg.top, fill: "none", stroke: "#333", "stroke-width": 3.6 });
  
  
  root.appendChild(frame);

  // colorbar
  for (let i = 0; i < cfg.levels.length - 1; i++) {
    const yTop = cbScale(cfg.levels[i + 1]);
    const yBot = cbScale(cfg.levels[i]);
    const seg = shape("rect", { x: cfg.cbLeft, y: yTop, width: cfg.cbRight - cfg.cbLeft, height: yBot - yTop + 0.5, fill: bandColor(cfg.levels, cfg.levels[i]) });
    
    
    root.appendChild(seg);
  }
  const cbFrame = shape("rect", { x: cfg.cbLeft, y: cfg.top, width: cfg.cbRight - cfg.cbLeft, height: cfg.bottom - cfg.top, fill: "none", stroke: "#333", "stroke-width": 3.6 });
  
  
  root.appendChild(cbFrame);
  cfg.cbTicks.forEach(v => {
    const y = cbScale(v);
    const tick = shape("line", { x1: cfg.cbRight, x2: cfg.cbRight + 19, y1: y, y2: y, stroke: "#333", "stroke-width": 3.2 });
    
    
    root.appendChild(tick);
    const label = shape("text", { x: cfg.cbRight + 31, y: y + 12, "font-size": 36 });
    
    
    label.textContent = String(v).replace("-", "\u2212");
    root.appendChild(label);
  });
}

drawPanel({ id: "panel-1", left: 153, right: 974.5, top: 19.5, bottom: 630, cbLeft: 1026, cbRight: 1058, levels: energyLevels, bands: energyBands, cbTicks: energyCbarTicks, lines: phaseCurves });
drawPanel({ id: "panel-2", left: 153, right: 955, top: 796, bottom: 1399, cbLeft: 1005, cbRight: 1036, levels: deltaLevels, bands: deltaBandsA, cbTicks: deltaCbarTicks });
drawPanel({ id: "panel-3", left: 153, right: 955, top: 1566, bottom: 2169, cbLeft: 1005, cbRight: 1036, levels: deltaLevels, bands: deltaBandsB, cbTicks: deltaCbarTicks });
</script>
</body>
</html>
